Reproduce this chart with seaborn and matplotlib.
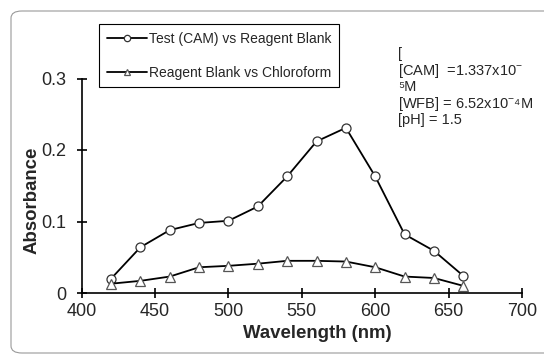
import pandas as pd
import matplotlib.pyplot as plt
import seaborn as sns
from matplotlib.patches import FancyBboxPatch

# Datos
longitud_onda = [420, 440, 460, 480, 500, 520, 540, 560, 580, 600, 620, 640, 660]
test_cam = [0.020, 0.064, 0.088, 0.098, 0.101, 0.121, 0.163, 0.212, 0.231, 0.163, 0.082, 0.059, 0.024]
blanco_reactivo = [0.013, 0.017, 0.023, 0.036, 0.038, 0.041, 0.045, 0.045, 0.044, 0.036, 0.023, 0.021, 0.010]

etiquetas_series = ['Test (CAM) vs Reagent Blank', 'Reagent Blank vs Chloroform']
ticks_y = [0, 0.1, 0.2, 0.3]
etiquetas_y = ['0', '0.1', '0.2', '0.3']
ticks_x = [400, 450, 500, 550, 600, 650, 700]
lineas_nota = ['[', '[CAM]  =1.337x10$^{-}$', '\u2075M', '[WFB] = 6.52x10$^{-}$\u2074M', '[pH] = 1.5']

df = pd.DataFrame({'Wavelength': longitud_onda, 'Test': test_cam, 'Blank': blanco_reactivo})

sns.set_style('ticks')
plt.rcParams['font.family'] = ['Liberation Sans', 'DejaVu Sans']
plt.rcParams['mathtext.fontset'] = 'custom'
plt.rcParams['mathtext.rm'] = 'Liberation Sans'
plt.rcParams['mathtext.it'] = 'Liberation Sans'

fig = plt.figure(figsize=(5.44, 3.56), dpi=100)
ax = fig.add_axes([81.7 / 544, 1 - 293 / 356, 440.3 / 544, 214.5 / 356])

# marco redondeado alrededor de la figura
marco = FancyBboxPatch((11 / 544, 3 / 356), 1.2, 342 / 356,
                       boxstyle='round,pad=0,rounding_size=0.02',
                       transform=fig.transFigure, facecolor='none',
                       edgecolor='#9a9a9a', linewidth=0.8, clip_on=False)
fig.patches.append(marco)

sns.lineplot(data=df, x='Wavelength', y='Test', ax=ax, color='black', linewidth=1.3,
             marker='o', markersize=6.5, markerfacecolor='white', markeredgecolor='#333333',
             markeredgewidth=0.9, label=etiquetas_series[0])
sns.lineplot(data=df, x='Wavelength', y='Blank', ax=ax, color='black', linewidth=1.3,
             marker='^', markersize=7, markerfacecolor='white', markeredgecolor='#555555',
             markeredgewidth=0.9, label=etiquetas_series[1])

ax.set_xlim(400, 700)
ax.set_ylim(0, 0.3)
ax.set_xticks(ticks_x)
ax.set_yticks(ticks_y)
ax.set_yticklabels(etiquetas_y)
ax.tick_params(direction='inout', length=7.5, width=1.2, labelsize=13, color='black')
ax.tick_params(axis='y', pad=7.3)
ax.tick_params(axis='x', pad=3.4)
for lado in ['top', 'right']:
    ax.spines[lado].set_visible(False)
for lado in ['left', 'bottom']:
    ax.spines[lado].set_linewidth(1.2)
    ax.spines[lado].set_color('black')

ax.set_xlabel('Wavelength (nm)', fontsize=13.4, fontweight='bold')
ax.set_ylabel('Absorbance', fontsize=13.4, fontweight='bold')
ax.xaxis.set_label_coords(0.536, -0.1515)
ax.yaxis.set_label_coords(-0.0924, 0.434)

ax.legend_.remove()
handles, labels = ax.get_legend_handles_labels()
fig.legend(handles, labels, loc='upper left', bbox_to_anchor=(99 / 544, 1 - 24 / 356),
           borderaxespad=0, fancybox=False, edgecolor='black', framealpha=1,
           fontsize=10, labelspacing=1.45, handlelength=2.9, handletextpad=0.15,
           borderpad=0.55, markerscale=0.7)
fig.legends[0].get_frame().set_linewidth(0.8)

# nota con las condiciones, linea por linea
for i, linea in enumerate(lineas_nota):
    fig.text(397.7 / 544, 1 - (58 + 16.6 * i) / 356, linea, fontsize=10.5,
             va='baseline', ha='left')

fig.savefig('out.png', dpi=100)
